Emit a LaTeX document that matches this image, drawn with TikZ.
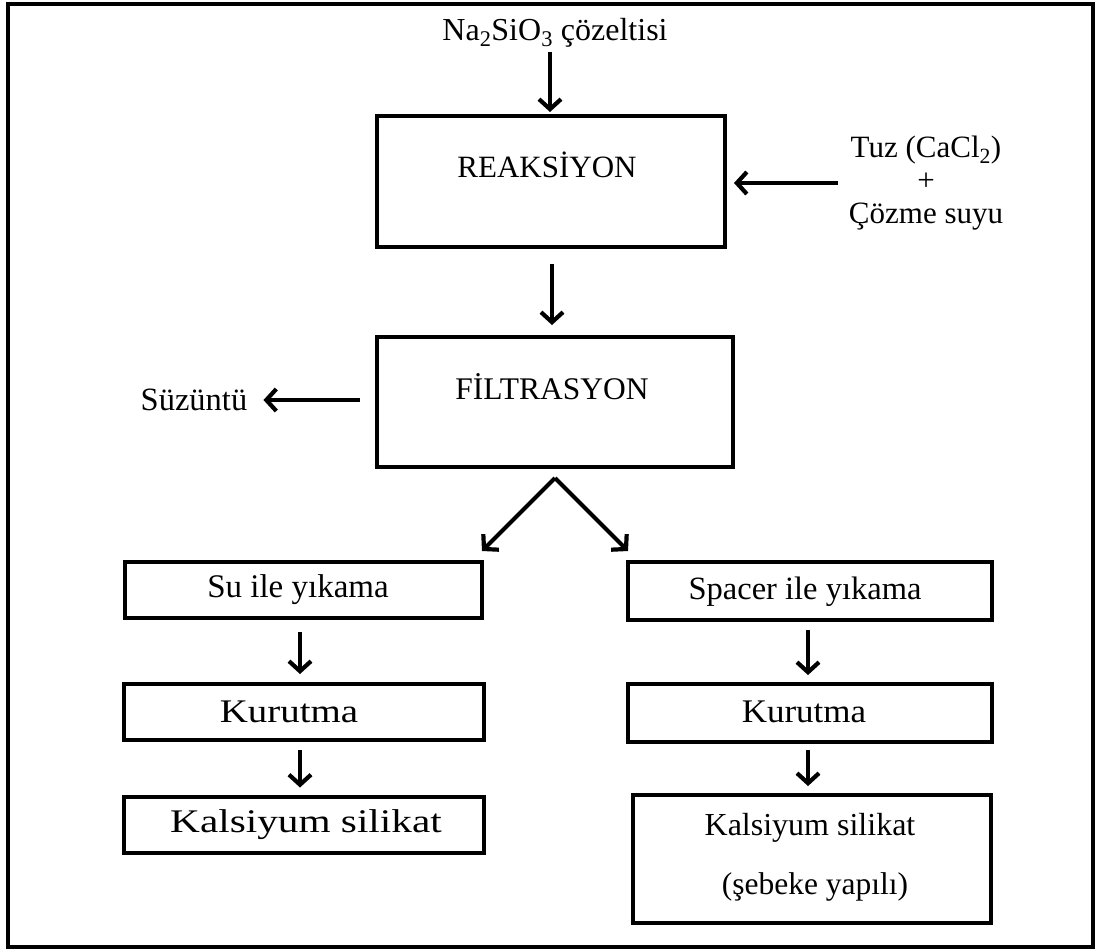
\documentclass[tikz,border=0pt]{standalone}
\usepackage{fontspec}
\setmainfont{Liberation Serif}
\usetikzlibrary{arrows.meta}
\begin{document}
\begin{tikzpicture}[x=1pt,y=-1pt,
  boxnode/.style={draw,line width=4pt,inner sep=0pt,rectangle},
  txt/.style={inner sep=0pt,font=\fontsize{33}{38}\selectfont},
  arr/.style={line width=4.2pt,-{Straight Barb[length=10pt,width=22pt]}}]
\useasboundingbox (0,0) rectangle (1099,951);
\draw[line width=4pt] (8,4) rectangle (1093,947);
% boxes
\node[boxnode,minimum width=348pt,minimum height=131pt] (reak) at (551,181.5) {};
\node[boxnode,minimum width=356pt,minimum height=130pt] (filt) at (555,402) {};
\node[boxnode,minimum width=357pt,minimum height=56pt] (su) at (303.5,590) {};
\node[boxnode,minimum width=364pt,minimum height=58pt] (sp) at (810,591) {};
\node[boxnode,minimum width=360pt,minimum height=56pt] (kur1) at (304,712) {};
\node[boxnode,minimum width=364pt,minimum height=58pt] (kur2) at (810,713) {};
\node[boxnode,minimum width=360pt,minimum height=56pt] (kal1) at (304,824.5) {};
\node[boxnode,minimum width=358pt,minimum height=128pt] (kal2) at (812,859) {};
% texts
\node[txt,font=\fontsize{31}{38}\selectfont] (reakt) at (547,165) {REAKSİYON};
\node[txt,font=\fontsize{31.5}{38}\selectfont] (filtt) at (552,387) {FİLTRASYON};
\node[txt] (sut) at (298,590) {Su ile yıkama};
\node[txt,font=\fontsize{32.5}{38}\selectfont] (spt) at (805,592) {Spacer ile yıkama};
\node[txt] (kur1t) at (289,712) {\addfontfeature{FakeStretch=1.18}Kurutma};
\node[txt] (kur2t) at (804,712) {\addfontfeature{FakeStretch=1.06}Kurutma};
\node[txt] (kal1t) at (306,825) {\addfontfeature{FakeStretch=1.25}Kalsiyum silikat};
\node[txt,font=\fontsize{32}{38}\selectfont] (kal2t) at (810,828) {Kalsiyum silikat};
\node[txt,font=\fontsize{31.5}{38}\selectfont] (kal2b) at (815,887) {(şebeke yapılı)};
\node[txt,font=\fontsize{32}{38}\selectfont] (na) at (555,33) {Na\textsubscript{2}SiO\textsubscript{3} çözeltisi};
\node[txt,align=center,font=\fontsize{31}{33}\selectfont] (tuz) at (926,183) {Tuz (CaCl\textsubscript{2})\\+\\Çözme suyu};
\node[txt,font=\fontsize{32.5}{38}\selectfont] (suz) at (194,400) {Süzüntü};
% connectors
\coordinate (tuzin) at (838,183);
\coordinate (apex) at (555,478);
\draw[arr,shorten <=4pt,shorten >=2pt] (na.south -| 550,0) -- (reak.north -| 550,0);
\draw[arr,shorten >=7pt] (tuzin) -- (tuzin -| reak.east);
\draw[arr,shorten <=15pt,shorten >=10pt] (reak.south -| 552,0) -- (filt.north -| 552,0);
\draw[arr,shorten <=15pt,shorten >=16pt] (filt.west |- 0,400) -- (suz.east |- 0,400);
\draw[arr] (apex) -- ([xshift=-2pt,yshift=9pt]su.north east);
\draw[arr] (apex) -- ([xshift=2pt,yshift=9pt]sp.north west);
\draw[arr,shorten <=12pt,shorten >=8pt] (su.south -| 300,0) -- (kur1.north -| 300,0);
\draw[arr,shorten <=8pt,shorten >=7pt] (kur1.south -| 300,0) -- (kal1.north -| 300,0);
\draw[arr,shorten <=8pt,shorten >=7pt] (sp.south -| 808,0) -- (kur2.north -| 808,0);
\draw[arr,shorten <=6pt,shorten >=7pt] (kur2.south -| 808,0) -- (kal2.north -| 808,0);
\end{tikzpicture}
\end{document}
